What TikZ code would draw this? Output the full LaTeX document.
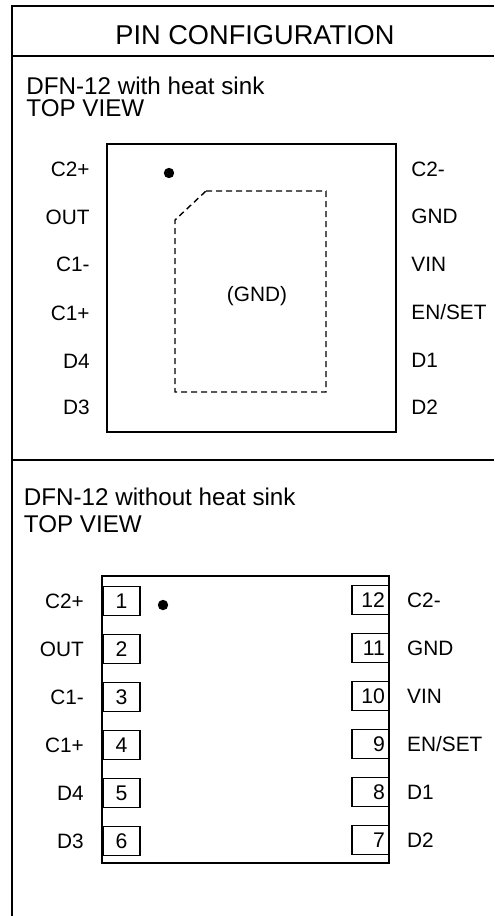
\documentclass[tikz,border=0pt]{standalone}
\usepackage{fontspec}
\setmainfont{Liberation Sans}
\usetikzlibrary{positioning}

\tikzset{
	frame/.style={line width=1pt},
	package/.style={line width=1pt},
	pinbox/.style={draw, line width=0.8pt, minimum width=18.5pt, minimum height=14.5pt, inner sep=0pt, font=\fontsize{10.6}{12}\selectfont},
	pinboxr/.style={pinbox, text width=14.5pt, inner xsep=2pt, align=right},
	pinname/.style={inner sep=0pt, font=\fontsize{10.4}{12}\selectfont},
	headtext/.style={inner sep=0pt, anchor=base west, font=\fontsize{12.1}{14}\selectfont},
}

\begin{document}
\begin{tikzpicture}[x=0.5pt, y=-0.5pt]
				\useasboundingbox (0,0) rectangle (494,916);
				
				%Frame
				\draw[frame] (494,5.5) -- (12,5.5) -- (12,916);
				\draw[frame] (12,55.5) -- (494,55.5);
				\draw[frame] (12,460) -- (494,460);
				\node[inner sep=0pt, anchor=base, font=\fontsize{13.6}{16}\selectfont] (title) at (255,44) {PIN CONFIGURATION};
				
				%Nodes - with heat sink
				\node[headtext] (headA) at (26,94) {DFN-12 with heat sink};
				\node[headtext] (viewA) at (26,116) {TOP VIEW};
				\coordinate      (pkgAtl) 	at 	(107,144);
				\coordinate      (pkgAbr) 	at 	(396,432);
				\draw[package] (pkgAtl) rectangle (pkgAbr);
				\fill (169,173) circle (2.6pt);
				\draw[line width=0.7pt, dash pattern=on 3pt off 2pt] (206,191) -- (326,191) -- (326,392) -- (175,392) -- (175,220) -- cycle;
				\node[pinname] (padA) at (257,296) {(GND)};
				
				\node[pinname, anchor=east] (lA1) at (90,169) {C2+};
				\node[pinname, anchor=east] (lA2) at (90,217) {OUT};
				\node[pinname, anchor=east] (lA3) at (90,264) {C1-};
				\node[pinname, anchor=east] (lA4) at (90,313) {C1+};
				\node[pinname, anchor=east] (lA5) at (90,361) {D4};
				\node[pinname, anchor=east] (lA6) at (90,407) {D3};
				\node[pinname, anchor=west] (rA12) at (411,169) {C2-};
				\node[pinname, anchor=west] (rA11) at (411,216) {GND};
				\node[pinname, anchor=west] (rA10) at (411,264) {VIN};
				\node[pinname, anchor=west] (rA9) at (411,312) {EN/SET};
				\node[pinname, anchor=west] (rA8) at (411,360) {D1};
				\node[pinname, anchor=west] (rA7) at (411,407) {D2};
				
				%Nodes - without heat sink
				\node[headtext] (headB) at (23.5,505) {DFN-12 without heat sink};
				\node[headtext] (viewB) at (23.5,532) {TOP VIEW};
				\coordinate      (pkgBtl) 	at 	(102,576);
				\coordinate      (pkgBbr) 	at 	(389,863);
				\draw[package] (pkgBtl) rectangle (pkgBbr);
				\fill (163,605) circle (2.6pt);
				
				\node[pinbox, fill=white] (p1) at (121.5,601) {1};
				\node[pinbox, fill=white] (p2) at (121.5,649) {2};
				\node[pinbox, fill=white] (p3) at (121.5,697) {3};
				\node[pinbox, fill=white] (p4) at (121.5,745) {4};
				\node[pinbox, fill=white] (p5) at (121.5,793) {5};
				\node[pinbox, fill=white] (p6) at (121.5,841) {6};
				\node[pinboxr, fill=white] (p12) at (370.5,600) {12};
				\node[pinboxr, fill=white] (p11) at (370.5,648) {11};
				\node[pinboxr, fill=white] (p10) at (370.5,696) {10};
				\node[pinboxr, fill=white] (p9) at (370.5,744) {9};
				\node[pinboxr, fill=white] (p8) at (370.5,792) {8};
				\node[pinboxr, fill=white] (p7) at (370.5,840) {7};
				
				\node[pinname, left=9pt of p1] (lB1) {C2+};
				\node[pinname, left=9pt of p2] (lB2) {OUT};
				\node[pinname, left=9pt of p3] (lB3) {C1-};
				\node[pinname, left=9pt of p4] (lB4) {C1+};
				\node[pinname, left=9pt of p5] (lB5) {D4};
				\node[pinname, left=9pt of p6] (lB6) {D3};
				\node[pinname, right=8.5pt of p12] (rB12) {C2-};
				\node[pinname, right=8.5pt of p11] (rB11) {GND};
				\node[pinname, right=8.5pt of p10] (rB10) {VIN};
				\node[pinname, right=8.5pt of p9] (rB9) {EN/SET};
				\node[pinname, right=8.5pt of p8] (rB8) {D1};
				\node[pinname, right=8.5pt of p7] (rB7) {D2};
		\end{tikzpicture}
\end{document}
